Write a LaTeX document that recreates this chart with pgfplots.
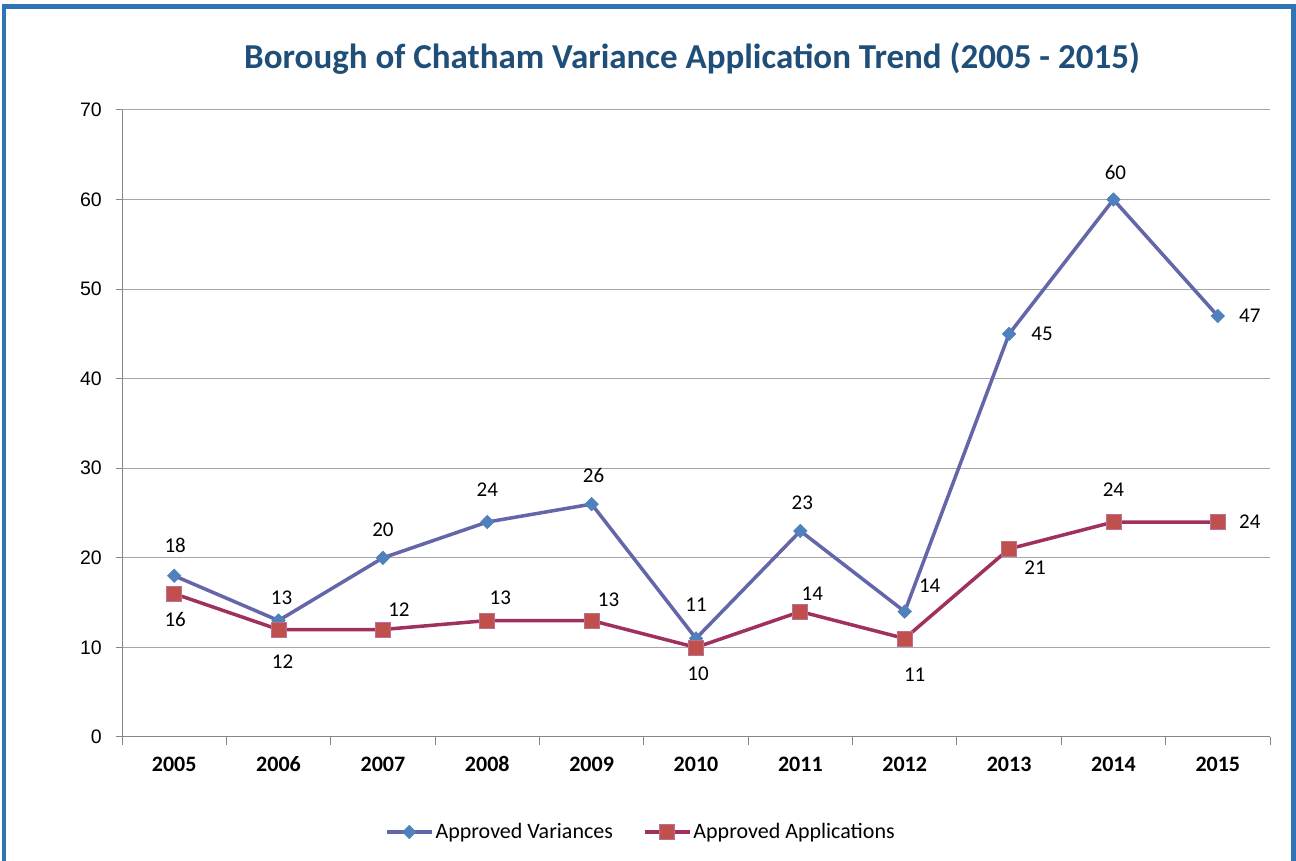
\documentclass[border=0pt]{standalone}
\usepackage{pgfplots}
\usepackage{pgfplotstable}
\pgfplotsset{compat=1.18}
\usepackage{fontspec}
\setmainfont{Carlito}
\newfontfamily\arialfont{Liberation Sans}
\definecolor{frameblue}{HTML}{2E75B6}
\definecolor{titleblue}{HTML}{1F4E79}
\definecolor{varline}{HTML}{6366A8}
\definecolor{varmark}{HTML}{4F81BD}
\definecolor{appline}{HTML}{A0315F}
\definecolor{appmark}{HTML}{C0504D}
\definecolor{gridgray}{HTML}{A6A6A6}
\definecolor{axisgray}{HTML}{868686}

\pgfplotstableread{
x y dx dy
0 18 1 30
1 13 3 23
2 20 0 28
3 24 0 32
4 26 2 29
5 11 0 34
6 23 2 28
7 14 25 26
8 45 33 0
9 60 2 27
10 47 32 0
}\vartable

\pgfplotstableread{
x y dx dy
0 16 1 -26
1 12 4 -32
2 12 16 20
3 13 13 23
4 13 17 21
5 10 2 -26
6 14 12 18
7 11 10 -36
8 21 26 -19
9 24 0 32
10 24 32 0
}\apptable

\begin{document}
\begin{tikzpicture}
\useasboundingbox (0,0) rectangle (1296bp,861bp);
\fill[white] (0,0) rectangle (1296bp,861bp);
\draw[frameblue, line width=4.5bp] (4bp,-20bp) rectangle (1293.5bp,854.5bp);
\node[font=\fontsize{35bp}{42bp}\selectfont\bfseries, text=titleblue] at (692bp,803bp) {Borough of Chatham Variance Application Trend (2005 - 2015)};
\begin{axis}[
  at={(122bp,124bp)}, anchor=south west,
  scale only axis, width=1148bp, height=627bp,
  clip=false,
  xmin=-0.5, xmax=10.5, ymin=0, ymax=70,
  xtick={0,...,10},
  xticklabels={2005,2006,2007,2008,2009,2010,2011,2012,2013,2014,2015},
  minor xtick={-0.5,0.5,...,10.5},
  ytick={0,10,...,70},
  axis x line*=bottom, axis y line*=left,
  axis line style={axisgray, line width=1bp, -},
  tick align=outside,
  major tick length=6bp, minor tick length=8bp,
  major x tick style={draw=none},
  minor x tick style={axisgray, line width=1bp},
  major y tick style={axisgray, line width=1bp},
  ymajorgrids, grid style={gridgray, line width=1bp},
  /pgf/number format/assume math mode=true,
  /pgf/number format/1000 sep={},
  yticklabel style={font=\arialfont\fontsize{19.5bp}{23bp}\selectfont, inner sep=0pt, xshift=-14bp},
  xticklabel style={font=\fontsize{22bp}{26bp}\selectfont\bfseries, text height=14bp, text depth=0pt, inner sep=0pt, yshift=-14bp},
  nodes near coords,
  visualization depends on={\thisrow{dx}\as\dx},
  visualization depends on={\thisrow{dy}\as\dy},
  every node near coord/.append style={font=\fontsize{21bp}{25bp}\selectfont, anchor=center, xshift=\dx bp, yshift=\dy bp, text=black},
  legend style={at={(axis description cs:0.452,-0.1515)}, anchor=center, draw=none, fill=none,
    font=\fontsize{22bp}{26bp}\selectfont, legend columns=2,
    /tikz/every even column/.append style={column sep=28bp},
    nodes={inner sep=2bp}},
  legend image code/.code={\draw[mark repeat=2,mark phase=2] plot coordinates {(0bp,0bp) (22.5bp,0bp) (45bp,0bp)};},
]
\addplot[varline, line width=3.5bp, mark=square*, mark size=4.8bp,
  mark options={rotate=45, fill=varmark, draw=varmark, line width=0.5bp}]
  table[x=x, y=y] {\vartable};
\addlegendentry{Approved Variances}
\addplot[appline, line width=3.5bp, mark=square*, mark size=7.5bp,
  mark options={fill=appmark, draw=appline!70!white, line width=0.8bp}]
  table[x=x, y=y] {\apptable};
\addlegendentry{Approved Applications}
\end{axis}
\end{tikzpicture}
\end{document}
